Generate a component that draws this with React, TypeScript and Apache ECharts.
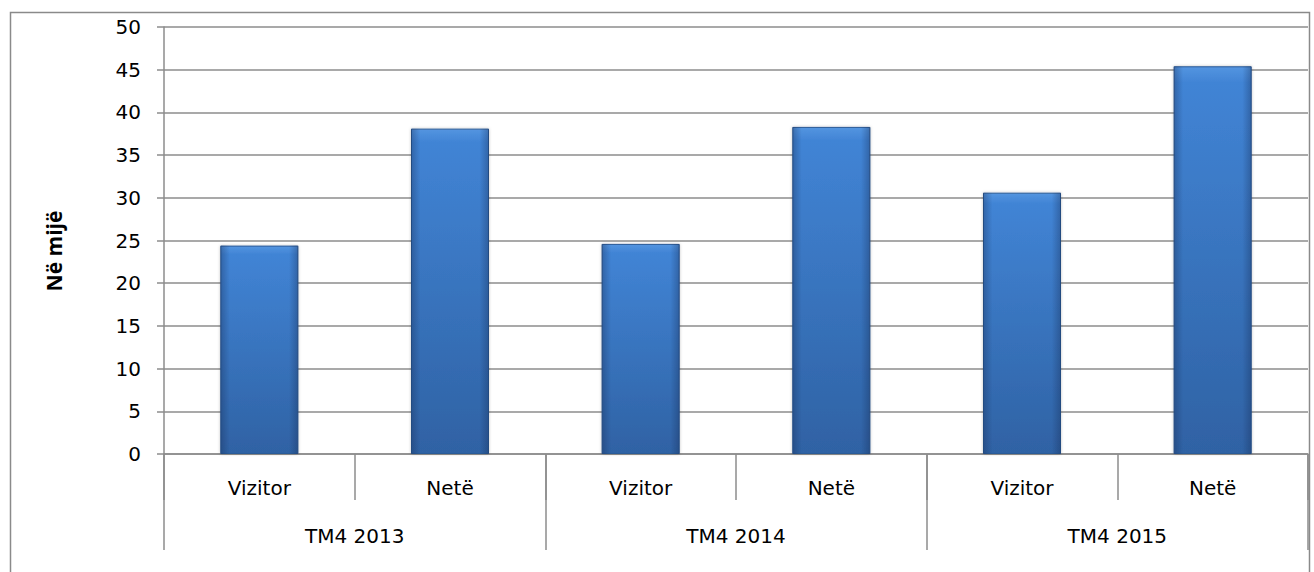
import React, { useEffect, useRef } from "react";
import * as echarts from "echarts";

const subCategories = ["Vizitor", "Netë", "Vizitor", "Netë", "Vizitor", "Netë"];
const groupCategories = ["TM4 2013", "TM4 2014", "TM4 2015"];
const values = [24.4, 38.1, 24.6, 38.3, 30.6, 45.4];
const yAxisName = "Në mijë";

export default function App() {
  const ref = useRef<HTMLDivElement>(null);
  useEffect(() => {
    if (!ref.current) return;
    const chart = echarts.init(ref.current, undefined, { renderer: "svg" });
    const gridColor = "#8c8c8c";
    chart.setOption({
      animation: false,
      backgroundColor: "#ffffff",
      graphic: [
        {
          type: "rect",
          shape: { x: 10.5, y: 12.5, width: 1299, height: 600 },
          style: { fill: "none", stroke: "#8a8a8a", lineWidth: 1.5 },
          silent: true,
          z: -1,
        },
        {
          type: "text",
          x: 54,
          y: 251,
          rotation: Math.PI / 2,
          silent: true,
          style: {
            text: yAxisName,
            fill: "#000",
            font: "bold 21px 'Open Sans'",
            align: "center",
            verticalAlign: "middle",
          },
        },
      ],
      grid: { left: 164, top: 27, right: 6, bottom: 118, containLabel: false },
      xAxis: [
        {
          type: "category",
          data: subCategories,
          position: "bottom",
          axisLine: { show: true, lineStyle: { color: gridColor, width: 1.5 } },
          axisTick: { show: true, interval: 0, length: 46, lineStyle: { color: gridColor, width: 1.5 } },
          axisLabel: {
            interval: 0,
            margin: 24,
            color: "#000",
            fontFamily: "DejaVu Sans",
            fontSize: 20,
          },
        },
        {
          type: "category",
          data: groupCategories,
          position: "bottom",
          axisLine: { show: false },
          axisTick: { show: true, interval: 0, length: 96, lineStyle: { color: gridColor, width: 1.5 } },
          axisLabel: {
            interval: 0,
            margin: 72,
            color: "#000",
            fontFamily: "DejaVu Sans",
            fontSize: 20,
          },
        },
      ],
      yAxis: {
        type: "value",
        min: 0,
        max: 50,
        interval: 5,
        axisLine: { show: true, lineStyle: { color: gridColor, width: 1.5 } },
        axisTick: { show: true, inside: false, length: 7, lineStyle: { color: gridColor, width: 1.5 } },
        axisLabel: { margin: 23, color: "#000", fontFamily: "DejaVu Sans", fontSize: 20 },
        splitLine: { show: true, lineStyle: { color: gridColor, width: 1.5 } },
      },
      series: [
        {
          type: "bar",
          xAxisIndex: 0,
          data: values,
          barWidth: 78,
          itemStyle: {
            color: new echarts.graphic.LinearGradient(0, 0, 0, 1, [
              { offset: 0, color: "#5495e0" },
              { offset: 0.04, color: "#4184d5" },
              { offset: 1, color: "#2f62a4" },
            ]),
            borderColor: "#2c5b98",
            borderWidth: 1,
            shadowColor: "rgba(0,0,0,0.25)",
            shadowBlur: 3,
          },
        },
        {
          type: "bar",
          xAxisIndex: 0,
          data: values,
          barWidth: 78,
          barGap: "-100%",
          silent: true,
          itemStyle: {
            color: new echarts.graphic.LinearGradient(0, 0, 1, 0, [
              { offset: 0, color: "rgba(20,40,80,0.35)" },
              { offset: 0.12, color: "rgba(20,40,80,0)" },
              { offset: 0.88, color: "rgba(20,40,80,0)" },
              { offset: 1, color: "rgba(20,40,80,0.35)" },
            ]),
          },
        },
      ],
    });
    return () => chart.dispose();
  }, []);
  return (
    <div
      ref={ref}
      style={{ position: "fixed", left: 0, top: 0, width: 1314, height: 572, background: "#fff" }}
    />
  );
}
